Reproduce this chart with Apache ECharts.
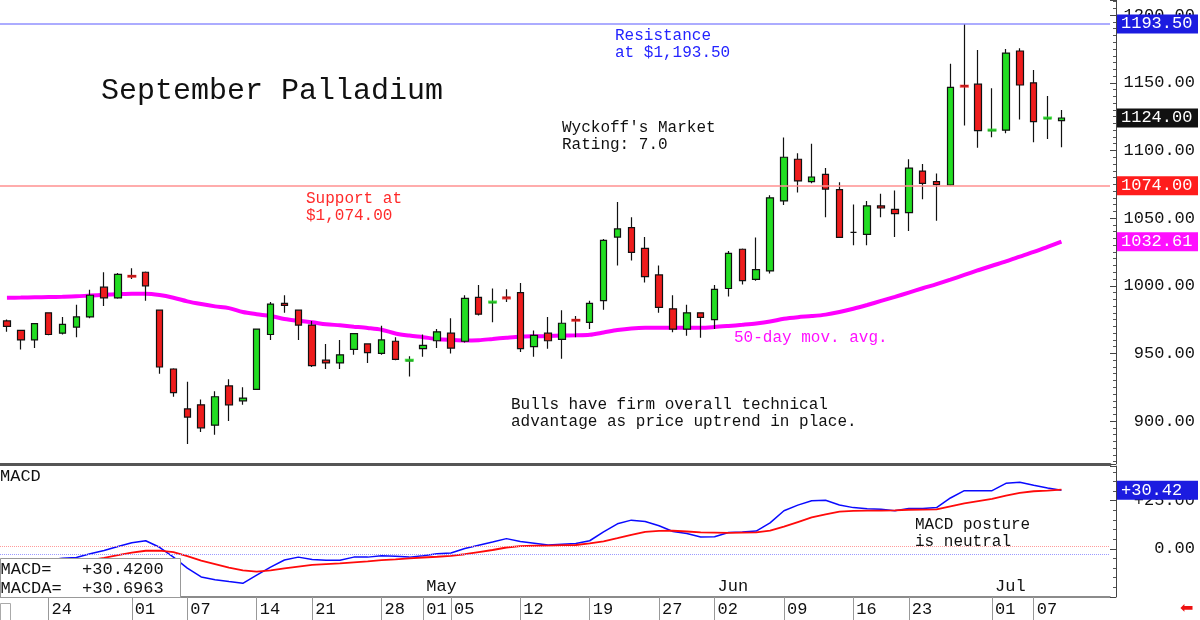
<!DOCTYPE html>
<html>
<head>
<meta charset="utf-8">
<script src="https://cdn.jsdelivr.net/npm/echarts@6/dist/echarts.min.js"></script>
<style>
html,body{margin:0;padding:0;background:#fff;}
#chart{width:1200px;height:620px;}
</style>
</head>
<body>
<div id="chart"></div>
<script>
// trading days (Mar 19 - Jul 9)
const dates = ['03-19','03-20','03-21','03-24','03-25','03-26','03-27','03-28','03-31',
  '04-01','04-02','04-03','04-04','04-07','04-08','04-09','04-10','04-11','04-14','04-15','04-16','04-17','04-21','04-22','04-23','04-24','04-25','04-28','04-29','04-30',
  '05-01','05-02','05-05','05-06','05-07','05-08','05-09','05-12','05-13','05-14','05-15','05-16','05-19','05-20','05-21','05-22','05-23','05-27','05-28','05-29','05-30',
  '06-02','06-03','06-04','06-05','06-06','06-09','06-10','06-11','06-12','06-13','06-16','06-17','06-18','06-20','06-23','06-24','06-25','06-26','06-27','06-30',
  '07-01','07-02','07-03','07-07','07-08','07-09'];
const padDays = ['p1','p2','p3'];
const tickDates = ['03-24','04-01','04-07','04-14','04-21','04-28','05-01','05-05','05-12','05-19','05-27','06-02','06-09','06-16','06-23','07-01','07-07'];
const monthDates = ['05-01','06-02','07-01'];
const monthNames = ['May','Jun','Jul'];

const opens = [974,967,960,980,965,969.5,977,999,991,1007.5,1010,982,938.5,909,912,897,926,915,923.5,964,987,982,971,945,943,953,957,950,959,944.5,
  953.5,959.4,965,959,991.5,987.5,991.5,995,955,965,960.4,975,973,989,1036,1043,1027.7,1008,983,968,980,
  975,998,1027,1004.8,1011,1062.7,1093.5,1077,1082.4,1071,1039.5,1038,1059,1056.5,1054,1084.8,1077,1074.5,1148,1149,
  1114.6,1115,1173.5,1150,1123.5,1122];
const closes = [970,960,972,964,971.5,977,993,991,1008.5,1007,1000,940,921,903,895,918,912,917,968,986.5,985.5,971,941,943,949,964.6,950.6,960,945.6,945,
  956,966,954,990.7,979,988,991,953.5,963.4,959.4,972.3,974.5,987,1033.6,1042,1024.7,1006.7,984,968,980,976.7,
  997.4,1024,1003.8,1012,1065,1095,1077.5,1080.4,1071.5,1035.8,1039.5,1059,1057.5,1053.3,1087,1075.7,1074.7,1146.7,1147.5,1114.6,
  1115.1,1172,1148.4,1121.3,1124,1124];
const lows = [966,953,954,963.5,964,962,976,985,990.5,1005,989,935,918,883,892,890,900,912,923,960,980,960,940,938.5,938.5,949,943,949,945,933,
  947.5,954,950,958,978,973,988,951,947.6,953.5,946,962,968,982.3,1015,1018.6,1002.5,980,965.6,963,961.6,
  968,992,1001,1003.8,1009,1059.7,1069,1075.7,1050.6,1035.5,1030,1030,1050.6,1036,1040.5,1064,1048,1074,1118.4,1102,
  1109.7,1112.7,1122.8,1106,1108.5,1102.3];
const highs = [975,967,972.5,980,977,986,997,1010,1009.5,1013,1010.5,982,939,929,916,922,931,925,968.5,988,993,982.5,974,957,960,965,957.5,970.5,962,948,
  964,968,976,993,1000.5,998,997.5,1002,967,977,982,977.7,989,1034.5,1062,1050.6,1036,1015,993,986,980.5,
  1000.6,1025.7,1027.5,1035.6,1067,1109.5,1098,1105,1087,1076.5,1060,1062.7,1068,1070.5,1093.5,1090,1083,1164,1193.5,1174.3,
  1146,1175,1175.5,1159.5,1140.3,1130];
const ma50 = [991.2,991.3,991.5,991.7,991.9,992.2,992.8,993.3,993.8,994.2,
  994.2,993.2,991.2,988.5,986.5,984.8,983.5,980.6,979.0,977.7,
  975.5,974.1,973.0,971.6,970.8,969.8,968.8,967.5,964.8,963.2,
  962.0,960.7,960.0,959.5,959.8,960.7,961.6,962.4,962.7,962.9,
  963.2,963.4,963.8,965.5,967.3,968.5,969.0,969.0,969.0,969.0,
  969.0,969.5,970.3,971.2,972.2,973.6,975.6,976.8,977.6,978.7,
  980.6,983.0,985.8,988.8,991.8,995.0,998.2,1001.2,1004.5,1008.0,
  1011.5,1014.8,1018.0,1021.5,1025.0,1028.8,1032.61];
const macd = [-8.0,-7.5,-6.5,-5.8,-4.9,-4.5,-2.6,-0.9,1.2,3.2,
  4.2,0.8,-4.3,-10.0,-14.6,-16.0,-17.0,-17.9,-13.6,-9.5,
  -5.8,-4.3,-5.5,-5.9,-5.9,-4.3,-4.3,-3.6,-3.9,-4.3,
  -3.6,-2.6,-2.2,0.2,1.9,3.5,5.3,3.8,2.9,2.0,
  2.4,2.8,4.2,8.8,13.0,14.9,14.2,12.0,9.0,8.0,
  6.1,6.3,8.5,8.8,9.2,13.5,19.8,22.7,25.0,25.2,
  22.8,21.4,20.8,20.5,19.8,21.0,21.0,21.4,26.4,30.2,
  30.2,30.2,34.0,34.6,33.0,31.6,30.42];
const macda = [-9.0,-8.6,-8.1,-7.6,-7.0,-6.3,-5.9,-4.7,-3.3,-2.0,
  -1.0,-0.9,-1.7,-3.8,-6.1,-7.9,-9.7,-11.2,-11.8,-11.2,
  -10.1,-9.2,-8.3,-7.9,-7.5,-7.0,-6.5,-5.9,-5.5,-5.0,
  -4.5,-4.1,-3.6,-2.8,-1.7,-0.6,0.7,1.4,1.6,1.7,
  1.9,2.0,2.8,3.9,5.5,7.2,8.8,9.3,9.4,9.0,
  8.5,8.4,8.3,8.4,8.5,9.4,11.5,13.9,16.3,17.9,
  19.3,19.7,19.8,19.8,20.0,20.3,20.4,20.5,22.1,23.6,
  24.8,25.9,27.6,29.0,29.9,30.2,30.6963];
const resistance = 1193.5;
const support = 1074;
const macdGuides = [1.5, -2.7];

const FONT = "'Liberation Mono', 'DejaVu Sans Mono', monospace";
const UP = '#22dd22', DOWN = '#ee1c1c';
const cats = dates.concat(padDays);
const tickIdx = new Set(tickDates.map(d => dates.indexOf(d)));
const monthIdx = new Set(monthDates.map(d => dates.indexOf(d)));
const lastClose = closes[closes.length - 1];

const candles = dates.map((d, i) => [opens[i], closes[i], lows[i], highs[i]]);
// near-doji days: coloured open/close bar drawn on top of the black cross
const dojiBars = [];
dates.forEach((d, i) => {
  const diff = closes[i] - opens[i];
  if (Math.abs(diff) < 1 && diff !== 0) {
    dojiBars.push({ value: [i, closes[i]], itemStyle: { color: diff > 0 ? UP : DOWN } });
  }
});

const sideLabel = (bg, fmt) => ({
  show: true, position: 'end', distance: 7, formatter: fmt,
  color: '#fff', backgroundColor: bg, fontFamily: FONT, fontSize: 17,
  padding: [1, 4, 0, 4], lineHeight: 18, width: 73, align: 'left'
});
const hidden = { color: 'transparent', width: 0 };

const chart = echarts.init(document.getElementById('chart'));
chart.setOption({
  animation: false,
  textStyle: { fontFamily: FONT },
  grid: [
    { left: 0, top: 0, width: 1110, height: 464 },
    { left: 0, top: 466, width: 1110, height: 131 }
  ],
  xAxis: [
    { gridIndex: 0, type: 'category', data: cats, boundaryGap: true,
      axisLine: { onZero: false, lineStyle: { color: '#555', width: 3 } },
      axisTick: { show: false }, axisLabel: { show: false } },
    { gridIndex: 1, type: 'category', data: cats, boundaryGap: true, position: 'bottom',
      axisLine: { onZero: false, lineStyle: { color: '#666', width: 1.5 } },
      axisTick: { show: true, alignWithLabel: true, interval: i => tickIdx.has(i), length: 24,
        lineStyle: { color: '#999', width: 1 } },
      axisLabel: { interval: i => tickIdx.has(i), formatter: v => v.slice(3), align: 'left',
        padding: [0, 0, 0, 3], margin: 4, fontSize: 17, color: '#111', fontFamily: FONT } },
    { gridIndex: 1, type: 'category', data: cats, boundaryGap: true, position: 'bottom',
      axisLine: { show: false }, axisTick: { show: false },
      axisLabel: { inside: true, interval: i => monthIdx.has(i),
        formatter: v => monthNames[monthDates.indexOf(v)], align: 'left',
        padding: [0, 0, 0, 3], margin: 2, fontSize: 17, color: '#111', fontFamily: FONT } }
  ],
  yAxis: [
    { gridIndex: 0, type: 'value', position: 'right', offset: 6, min: 868.3, max: 1211.2, splitNumber: 7,
      axisLine: { show: true, lineStyle: { color: '#444' } },
      axisTick: { show: true, inside: true, length: 6, lineStyle: { color: '#444' } },
      minorTick: { show: true, splitNumber: 10, length: 3, lineStyle: { color: '#555' } },
      splitLine: { show: false },
      axisLabel: { showMinLabel: false, showMaxLabel: false, margin: 79, align: 'right',
        fontSize: 17, color: '#111', fontFamily: FONT, formatter: v => v.toFixed(2) } },
    { gridIndex: 1, type: 'value', position: 'right', offset: 6, min: -25, max: 43, interval: 25,
      axisLine: { show: true, lineStyle: { color: '#444' } },
      axisTick: { show: true, inside: true, length: 6, lineStyle: { color: '#444' } },
      minorTick: { show: true, splitNumber: 5, length: 3, lineStyle: { color: '#555' } },
      splitLine: { show: false },
      axisLabel: { margin: 79, align: 'right', fontSize: 17, color: '#111', fontFamily: FONT,
        formatter: v => v === 0 ? '0.00' : v === 25 ? '+25.00' : '' } }
  ],
  series: [
    { type: 'line', name: 'MA50', xAxisIndex: 0, yAxisIndex: 0, data: ma50, z: 2,
      symbol: 'none', smooth: 0.3, lineStyle: { color: '#ff00ff', width: 4 },
      markLine: { silent: true, symbol: ['none', 'none'], animation: false,
        data: [{ yAxis: ma50[ma50.length - 1], lineStyle: hidden,
          label: sideLabel('#ff10ff', p => p.value.toFixed(2)) }] } },
    { type: 'candlestick', name: 'Palladium', xAxisIndex: 0, yAxisIndex: 0, data: candles, z: 3,
      barWidth: 7,
      itemStyle: { color: UP, color0: DOWN, borderColor: '#111', borderColor0: '#111', borderWidth: 1.2 },
      markLine: { silent: true, symbol: ['none', 'none'], animation: false,
        data: [
          { yAxis: resistance, lineStyle: { color: '#9090ff', width: 1.5, type: 'solid' },
            label: sideLabel('#1c1ce0', p => p.value.toFixed(2)) },
          { yAxis: support, lineStyle: { color: '#ff9090', width: 1.5, type: 'solid' },
            label: sideLabel('#ff1c1c', p => p.value.toFixed(2)) },
          { yAxis: lastClose, lineStyle: hidden,
            label: sideLabel('#111', p => p.value.toFixed(2)) }
        ] } },
    { type: 'scatter', name: 'doji', xAxisIndex: 0, yAxisIndex: 0, data: dojiBars, z: 4,
      symbol: 'rect', symbolSize: [9, 3], silent: true },
    { type: 'line', name: 'MACD', xAxisIndex: 1, yAxisIndex: 1, data: macd,
      symbol: 'none', lineStyle: { color: '#0a0aff', width: 1.5 },
      markLine: { silent: true, symbol: ['none', 'none'], animation: false,
        data: [
          { yAxis: macdGuides[0], lineStyle: { color: '#ff9a9a', width: 1, type: 'dotted' }, label: { show: false } },
          { yAxis: macdGuides[1], lineStyle: { color: '#9a9aff', width: 1, type: 'dotted' }, label: { show: false } },
          { yAxis: macd[macd.length - 1], lineStyle: hidden,
            label: sideLabel('#1c1ce0', p => '+' + p.value.toFixed(2)) }
        ] } },
    { type: 'line', name: 'MACDA', xAxisIndex: 1, yAxisIndex: 1, data: macda,
      symbol: 'none', lineStyle: { color: '#ff0a0a', width: 1.8 } }
  ],
  graphic: [
    { type: 'text', left: 101, top: 76, z: 50,
      style: { text: 'September Palladium', font: '30px ' + FONT, fill: '#111' } },
    { type: 'text', left: 615, top: 28, z: 50,
      style: { text: 'Resistance\nat $1,193.50', font: '16px ' + FONT, fill: '#2424ff', lineHeight: 16.5 } },
    { type: 'text', left: 562, top: 120, z: 50,
      style: { text: "Wyckoff's Market\nRating: 7.0", font: '16px ' + FONT, fill: '#111', lineHeight: 16.5 } },
    { type: 'text', left: 306, top: 191, z: 50,
      style: { text: 'Support at\n$1,074.00', font: '16px ' + FONT, fill: '#ff2a2a', lineHeight: 16.5 } },
    { type: 'text', left: 734, top: 330, z: 50,
      style: { text: '50-day mov. avg.', font: '16px ' + FONT, fill: '#ff10ff' } },
    { type: 'text', left: 511, top: 396, z: 50,
      style: { text: 'Bulls have firm overall technical\nadvantage as price uptrend in place.', font: '16px ' + FONT, fill: '#111', lineHeight: 17 } },
    { type: 'text', left: 915, top: 516, z: 50,
      style: { text: 'MACD posture\nis neutral', font: '16px ' + FONT, fill: '#111', lineHeight: 17 } },
    { type: 'text', left: 0, top: 468, z: 50,
      style: { text: 'MACD', font: '17px ' + FONT, fill: '#111' } },
    { type: 'group', left: 0, top: 558, z: 100, children: [
      { type: 'rect', shape: { x: 0, y: 0, width: 180, height: 39 }, z: 100,
        style: { fill: '#fff', stroke: '#999', lineWidth: 1 } },
      { type: 'text', x: 0, y: 2, z: 101,
        style: { text: 'MACD=   +' + macd[macd.length - 1].toFixed(4) + '\nMACDA=  +' + macda[macda.length - 1].toFixed(4),
          font: '17px ' + FONT, fill: '#111', lineHeight: 18.5 } }
    ] },
    { type: 'rect', left: 0, top: 603, z: 50, shape: { width: 10, height: 17 },
      style: { fill: '#fff', stroke: '#aaa', lineWidth: 1 } },
    { type: 'text', left: 1180, top: 601, z: 50,
      style: { text: '\u2B05', font: '16px "DejaVu Sans"', fill: '#ee1111' } }
  ]
});
</script>
</body>
</html>
